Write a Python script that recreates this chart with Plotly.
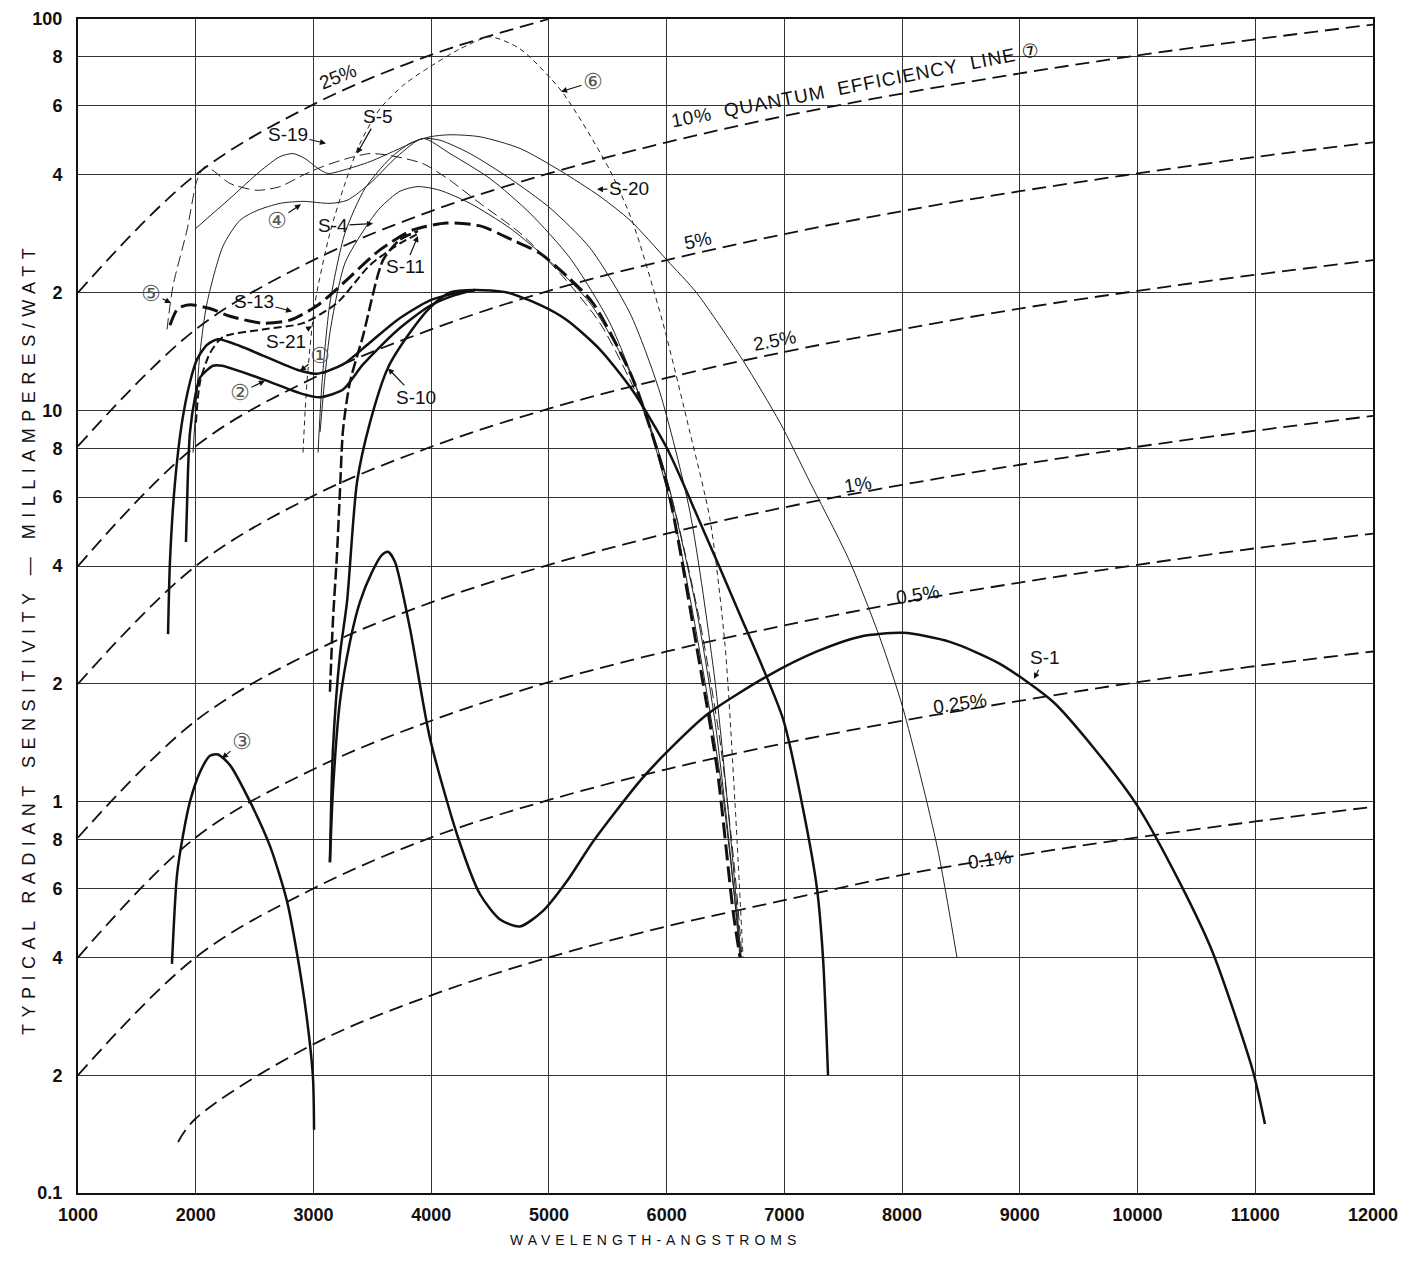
import math
import plotly.graph_objects as go

# ---------------- axis ticks ----------------
X_TICKS = [1000, 2000, 3000, 4000, 5000, 6000, 7000, 8000, 9000, 10000, 11000, 12000]
Y_TICKS = [0.1, 0.2, 0.4, 0.6, 0.8, 1, 2, 4, 6, 8, 10, 20, 40, 60, 80, 100]
Y_TICK_TEXT = ["0.1", "2", "4", "6", "8", "1", "2", "4", "6", "8", "10", "2", "4", "6", "8", "100"]

# ---------------- quantum efficiency lines (read every 1000 A) ----------------
QE_WL = [1000, 2000, 3000, 4000, 5000, 6000, 7000, 8000, 9000, 10000, 11000, 12000]
QE_25_WL = [1000, 2000, 3000, 4000, 5000]
QE_25 = [20, 40, 60.5, 81, 100]
QE_10 = [8.1, 16.1, 24.2, 32.3, 40.3, 48.4, 56.5, 64.5, 72.6, 80.7, 88.7, 96.8]
QE_5 = [4.0, 8.1, 12.1, 16.1, 20.2, 24.2, 28.2, 32.3, 36.3, 40.3, 44.4, 48.4]
QE_2_5 = [2.0, 4.0, 6.05, 8.07, 10.1, 12.1, 14.1, 16.1, 18.2, 20.2, 22.2, 24.2]
QE_1 = [0.81, 1.61, 2.42, 3.23, 4.03, 4.84, 5.65, 6.45, 7.26, 8.07, 8.87, 9.68]
QE_0_5 = [0.40, 0.81, 1.21, 1.61, 2.02, 2.42, 2.82, 3.23, 3.63, 4.03, 4.44, 4.84]
QE_0_25 = [0.20, 0.40, 0.60, 0.81, 1.01, 1.21, 1.41, 1.61, 1.81, 2.02, 2.22, 2.42]
QE_0_1_WL = [1850, 2000, 3000, 4000, 5000, 6000, 7000, 8000, 9000, 10000, 11000, 12000]
QE_0_1 = [0.135, 0.155, 0.24, 0.32, 0.40, 0.48, 0.56, 0.65, 0.73, 0.81, 0.89, 0.97]

# ---------------- photocathode response curves ----------------
WL_S1 = [3140, 3165, 3225, 3310, 3395, 3497, 3582, 3633, 3692, 3820, 3990, 4228, 4415, 4585, 4754,
         4950, 5154, 5374, 5774, 6003, 6343, 6852, 7277, 7642, 8008, 8407, 8831, 9282, 9621, 9995,
         10360, 10641, 10980, 11082]
SENS_S1 = [0.70, 1.06, 1.8, 2.56, 3.24, 3.86, 4.27, 4.35, 4.1, 2.77, 1.45, 0.81, 0.58, 0.50, 0.48,
           0.526, 0.627, 0.79, 1.13, 1.34, 1.67, 2.09, 2.42, 2.64, 2.70, 2.56, 2.25, 1.80, 1.38, 0.98,
           0.62, 0.41, 0.205, 0.15]

WL_S10 = [3140, 3165, 3225, 3285, 3370, 3480, 3633, 3820, 3990, 4160, 4372, 4644, 4924, 5154, 5434,
          5714, 6003, 6283, 6597, 6988, 7158, 7277, 7328, 7371]
SENS_S10 = [0.70, 1.35, 2.37, 3.24, 6.55, 9.3, 12.85, 15.8, 18.3, 20.0, 20.3, 20.0, 18.6, 17.0, 14.3,
            11.2, 8.0, 5.18, 3.13, 1.63, 0.96, 0.60, 0.40, 0.20]

WL_C1 = [1765, 1781, 1824, 1883, 1951, 2011, 2096, 2189, 2376, 2571, 2860, 3030, 3251, 3480, 3710, 3990, 4202, 4372]
SENS_C1 = [2.68, 4.1, 6.55, 9.3, 11.8, 13.5, 14.7, 15.2, 14.6, 13.8, 12.7, 12.4, 13.1, 14.9, 17.0, 19.1, 19.9, 20.3]

WL_C2 = [1917, 1934, 1951, 1994, 2036, 2147, 2223, 2571, 2911, 3056, 3251, 3421, 3710, 3990, 4202, 4372]
SENS_C2 = [4.61, 6.94, 8.78, 10.8, 12.1, 13.0, 13.0, 12.0, 11.0, 10.8, 11.3, 13.1, 16.0, 18.5, 19.7, 20.3]

WL_C3 = [1798, 1841, 1892, 1951, 2036, 2121, 2189, 2291, 2461, 2631, 2775, 2869, 2945, 2996, 3005]
SENS_C3 = [0.385, 0.65, 0.82, 1.0, 1.19, 1.31, 1.32, 1.24, 1.0, 0.77, 0.557, 0.395, 0.278, 0.197, 0.145]

WL_S13 = [1781, 1849, 1951, 2121, 2291, 2571, 2801, 3030, 3251, 3565, 3845, 4134, 4415, 4695, 4924,
          5154, 5374, 5714, 6003, 6258, 6428, 6564, 6623]
SENS_S13 = [16.5, 18.2, 18.6, 18.2, 17.4, 16.7, 17.0, 18.5, 21.1, 25.7, 28.9, 30.1, 29.6, 27.2, 25.2,
            22.0, 18.8, 12.0, 6.45, 2.46, 1.22, 0.526, 0.40]

WL_S11 = [3140, 3165, 3200, 3225, 3251, 3310, 3421, 3591, 3735, 3888]
SENS_S11 = [1.91, 2.88, 4.3, 6.2, 8.9, 11.8, 15.5, 24.2, 27.3, 28.7]

WL_S21 = [2002, 2036, 2121, 2232, 2571, 2911, 3200, 3480, 3735, 3905]
SENS_S21 = [9.3, 11.8, 14.0, 15.4, 16.1, 16.7, 18.8, 23.5, 26.7, 28.4]

WL_S20 = [3039, 3073, 3140, 3268, 3438, 3650, 3820, 3990, 4160, 4415, 4754, 5094, 5434, 5689, 6003,
          6258, 6649, 6963, 7218, 7557, 7812, 8008, 8297, 8466]
SENS_S20 = [7.8, 11.8, 18.8, 28.4, 36.9, 44.0, 48.1, 50.0, 50.6, 50.0, 46.7, 41.0, 35.2, 30.6, 24.2,
            19.9, 13.4, 9.3, 6.55, 4.1, 2.62, 1.73, 0.77, 0.40]

WL_C6 = [2911, 2945, 3013, 3140, 3268, 3395, 3565, 3778, 3990, 4245, 4500, 4754, 5111, 5519, 5714,
         5969, 6198, 6368, 6496, 6580, 6649]
SENS_C6 = [7.8, 11.8, 18.8, 28.4, 38.0, 48.1, 59.0, 68.3, 75.5, 83.9, 90.0, 83.9, 65.2, 41.0, 30.1,
           16.7, 8.78, 5.27, 2.51, 1.0, 0.40]

WL_C5 = [1756, 1807, 1926, 2011, 2079, 2147, 2291, 2520, 2716, 2911, 3081, 3285, 3480, 3650, 3930,
         4160, 4415, 4754, 5094, 5434, 5774, 6029, 6283, 6453, 6580, 6640]
SENS_C5 = [16.1, 20.8, 28.9, 38.7, 42.0, 41.0, 38.0, 36.5, 37.3, 39.9, 42.0, 44.0, 45.3, 44.8, 42.7,
           38.7, 33.8, 28.4, 22.4, 16.7, 10.5, 6.2, 2.88, 1.43, 0.66, 0.40]

WL_S19 = [2002, 2291, 2546, 2716, 2826, 2928, 3039, 3123, 3268, 3480, 3735, 3930, 4075, 4330, 4670,
          5009, 5349, 5689, 5943, 6198, 6411, 6538, 6632]
SENS_S19 = [29.2, 34.8, 40.8, 44.5, 45.3, 44.0, 41.5, 40.3, 41.2, 43.2, 46.7, 49.5, 49.0, 45.3, 39.1,
            32.9, 26.0, 17.7, 11.1, 5.5, 2.03, 0.85, 0.40]

WL_C4 = [1977, 2036, 2096, 2232, 2376, 2520, 2716, 2911, 3140, 3285, 3480, 3710, 3930, 4160, 4500,
         4839, 5179, 5519, 5816, 6071, 6283, 6470, 6632]
SENS_C4 = [7.8, 14.0, 18.8, 26.3, 30.6, 32.4, 33.8, 34.2, 33.8, 34.4, 38.0, 44.5, 49.5, 45.3, 39.1,
           31.9, 24.5, 16.7, 9.9, 5.18, 2.4, 1.08, 0.40]

WL_S4 = [3056, 3140, 3268, 3438, 3565, 3735, 3888, 4075, 4330, 4670, 5009, 5349, 5689, 5986, 6241,
         6411, 6538, 6623]
SENS_S4 = [8.8, 15.8, 23.8, 29.2, 32.9, 36.3, 37.3, 36.5, 33.8, 29.2, 24.0, 18.8, 12.5, 6.94, 3.24,
           1.6, 0.75, 0.40]

fig = go.Figure()

QE_STYLE = dict(color="#111", width=1.8, dash="14px,7px")
for wl, vals in [(QE_25_WL, QE_25), (QE_WL, QE_10), (QE_WL, QE_5), (QE_WL, QE_2_5), (QE_WL, QE_1),
                 (QE_WL, QE_0_5), (QE_WL, QE_0_25), (QE_0_1_WL, QE_0_1)]:
    fig.add_trace(go.Scatter(x=wl, y=vals, mode="lines", line=dict(shape="spline", smoothing=1.0, **QE_STYLE),
                             hoverinfo="skip", showlegend=False))

curves = [
    (WL_C6, SENS_C6, dict(color="#222", width=1, dash="5px,4px")),
    (WL_C5, SENS_C5, dict(color="#222", width=1, dash="11px,5px")),
    (WL_S20, SENS_S20, dict(color="#222", width=1)),
    (WL_S19, SENS_S19, dict(color="#222", width=1)),
    (WL_C4, SENS_C4, dict(color="#222", width=1)),
    (WL_S4, SENS_S4, dict(color="#222", width=1)),
    (WL_S21, SENS_S21, dict(color="#111", width=2, dash="8px,4px")),
    (WL_S11, SENS_S11, dict(color="#111", width=2.5, dash="12px,4px")),
    (WL_S13, SENS_S13, dict(color="#111", width=3, dash="16px,6px")),
    (WL_C1, SENS_C1, dict(color="#111", width=2.5)),
    (WL_C2, SENS_C2, dict(color="#111", width=2.5)),
    (WL_C3, SENS_C3, dict(color="#111", width=2.5)),
    (WL_S10, SENS_S10, dict(color="#111", width=2.5)),
    (WL_S1, SENS_S1, dict(color="#111", width=2.5)),
]
for wl, vals, st in curves:
    fig.add_trace(go.Scatter(x=wl, y=vals, mode="lines", line=dict(shape="spline", smoothing=0.7, **st),
                             hoverinfo="skip", showlegend=False))

FONT = "Liberation Sans, Arial, Helvetica, sans-serif"
LABEL_FONT = dict(family=FONT, size=19, color="#111")
CIRC_FONT = dict(family="DejaVu Sans, sans-serif", size=22, color="#555")

# QE labels (text along lines)
QE_LABELS = [
    ("25%", 3208, 71.2, -22, 0),
    ("10%  QUANTUM  EFFICIENCY  LINE ⑦", 7600, 67.6, -11, 1),
    ("5%", 6266, 27.2, -12, 0),
    ("2.5%", 6920, 15.1, -11, 0),
    ("1%", 7625, 6.47, -9, 0),
    ("0.5%", 8135, 3.39, -9, 0),
    ("0.25%", 8490, 1.78, -8, 0),
    ("0.1%", 8746, 0.71, -8, 0),
]
for txt, x, y, ang, sp in QE_LABELS:
    t = txt if sp == 0 else '<span style="letter-spacing:%dpx">%s</span>' % (sp, txt)
    fig.add_annotation(x=x, y=math.log10(y), xref="x", yref="y", text=t, showarrow=False,
                       textangle=ang, font=dict(family=FONT, size=19, color="#111"))

# curve labels with arrows: text, tip wavelength, tip value, ax, ay, circled?
CURVE_LABELS = [
    ("S-19", 3106, 48.1, -38, -9, False),
    ("S-5", 3370, 45.3, 21, -37, False),
    ("⑥", 5103, 65.2, 32, -10, True),
    ("S-20", 5408, 36.7, 32, -1, False),
    ("④", 2894, 33.6, -24, 16, True),
    ("S-4", 3506, 30.0, -40, 2, False),
    ("⑤", 1790, 18.8, -20, -10, True),
    ("S-13", 2818, 17.9, -38, -10, False),
    ("S-11", 3888, 27.9, -13, 31, False),
    ("S-21", 2988, 16.4, -26, 15, False),
    ("①", 2886, 12.6, 20, -16, True),
    ("②", 2588, 11.9, -25, 12, True),
    ("S-10", 3633, 12.8, 28, 29, False),
    ("③", 2223, 1.29, 20, -17, True),
    ("S-1", 9120, 2.06, 11, -21, False),
]
for txt, x, y, ax, ay, circ in CURVE_LABELS:
    fig.add_annotation(x=x, y=math.log10(y), xref="x", yref="y", text=txt, showarrow=True,
                       ax=ax, ay=ay, arrowhead=2, arrowsize=1, arrowwidth=1.2, arrowcolor="#111",
                       standoff=0, font=CIRC_FONT if circ else LABEL_FONT)

# axis titles
fig.add_annotation(x=-0.047, y=0.472, xref="paper", yref="paper", showarrow=False, textangle=-90,
                   text='<span style="letter-spacing:6.5px">TYPICAL RADIANT SENSITIVITY — MILLIAMPERES/WATT</span>',
                   font=dict(family=FONT, size=18, color="#111"))
fig.add_annotation(x=0.4456, y=-0.0484, xref="paper", yref="paper", showarrow=False,
                   text='<span style="letter-spacing:5px">WAVELENGTH-ANGSTROMS</span>',
                   font=dict(family=FONT, size=14, color="#111"))

fig.update_layout(
    width=1411, height=1253,
    margin=dict(l=70, r=46, t=11, b=68, autoexpand=False),
    paper_bgcolor="white", plot_bgcolor="white",
    showlegend=False, hovermode=False,
)
TICK_FONT = dict(family=FONT, size=18, color="#111", weight="bold")
fig.update_xaxes(range=[1000, 12000], tickvals=X_TICKS, ticktext=[str(v) for v in X_TICKS],
                 showgrid=True, gridcolor="#333", gridwidth=1, zeroline=False, automargin=False,
                 showline=True, linecolor="#111", linewidth=2, mirror=True, ticks="",
                 ticklabelstandoff=4, ticklabeloverflow="allow", tickfont=TICK_FONT)
fig.update_yaxes(type="log", range=[-1, 2], tickvals=Y_TICKS, ticktext=Y_TICK_TEXT,
                 showgrid=True, gridcolor="#333", gridwidth=1, zeroline=False, automargin=False,
                 showline=True, linecolor="#111", linewidth=2, mirror=True, ticks="",
                 ticklabelstandoff=10, ticklabeloverflow="allow", tickfont=TICK_FONT)

fig.write_html("out.html")
